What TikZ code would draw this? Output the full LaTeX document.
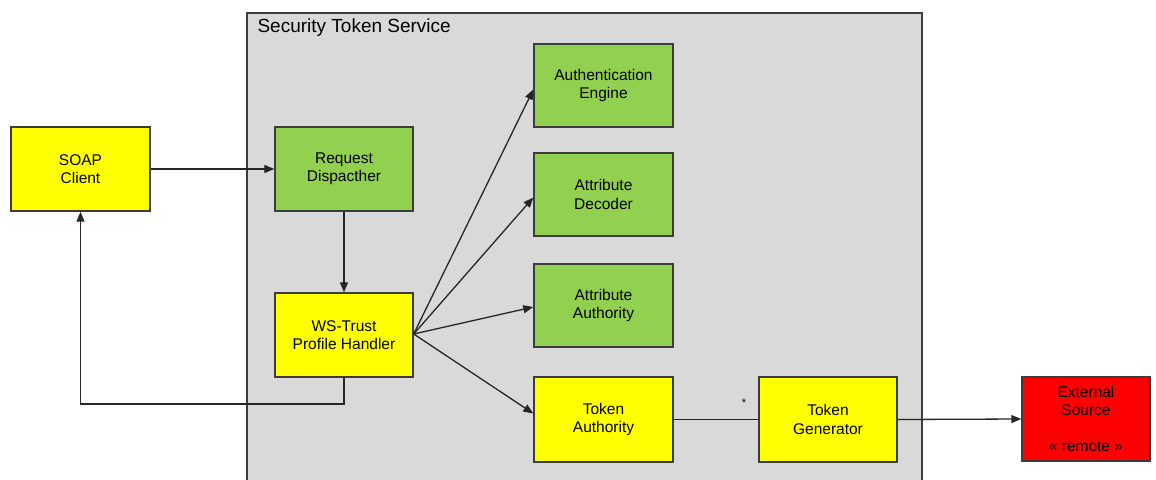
\documentclass[tikz,border=0pt]{standalone}
\usepackage{fontspec}
\setmainfont{Liberation Sans}
\usetikzlibrary{arrows.meta,calc}
\definecolor{boxgreen}{RGB}{146,208,80}
\definecolor{boxyellow}{RGB}{255,255,0}
\definecolor{boxred}{RGB}{255,0,0}
\definecolor{stsgray}{RGB}{217,217,217}
\definecolor{edge}{RGB}{60,60,60}
\tikzset{
  comp/.style={draw=edge, line width=1.4pt, inner sep=0pt, align=center,
    minimum width=139pt, minimum height=84pt,
    font=\fontsize{15.5}{18.3}\selectfont},
  greencomp/.style={comp, fill=boxgreen},
  yellowcomp/.style={comp, fill=boxyellow},
  redcomp/.style={comp, fill=boxred},
  link/.style={draw=black!85, line width=1.3pt},
  arr/.style={link, -{Triangle[length=10pt,width=8pt]}},
}
\begin{document}
\begin{tikzpicture}[x=1pt,y=-1pt]
\useasboundingbox (0,0) rectangle (1156,479);
% service container
\draw[draw=edge, line width=1.4pt, fill=stsgray] (247,13) rectangle (922,495);
\node[anchor=west, font=\fontsize{19}{22}\selectfont] (stslabel) at (254,28) {Security Token Service};

% components
\node[yellowcomp] (soap) at (80.5,169) {SOAP\\Client};
\node[greencomp, minimum width=138pt] (rd) at (344,169) {Request\\Dispacther};
\node[yellowcomp, minimum width=138pt] (ws) at (344,335) {WS-Trust\\Profile Handler};
\node[greencomp, minimum height=83pt] (ae) at (603.5,85.5) {Authentication\\Engine};
\node[greencomp, minimum height=83pt] (ad) at (603.5,194.5) {Attribute\\Decoder};
\node[greencomp, minimum height=83pt] (aa) at (603.5,305.5) {Attribute\\Authority};
\node[yellowcomp, minimum height=85pt] (ta) at (603.5,419.5) {Token\\Authority};
\node[yellowcomp, minimum width=138pt, minimum height=85pt] (tg) at (828,419.5) {Token\\Generator};
\node[redcomp, minimum width=128pt] (es) at (1086,419) {External\\Source\\[18.3pt]« remote »};

% connectors
\draw[arr] (soap.east) -- (rd.west);
\draw[arr] (rd.south) -- (ws.north);
\coordinate (wsout) at ($(ws.east)+(0,-1)$);
\draw[arr] (wsout) -- ($(ae.west)+(0,4)$);
\draw[arr] (wsout) -- ($(ad.west)+(0,3)$);
\draw[arr] (wsout) -- ($(aa.west)+(0,1.5)$);
\draw[arr] (wsout) -- ($(ta.west)+(0,-6)$);
\coordinate (loopcorner) at (344,404);
\draw[arr] (ws.south) -- (loopcorner) -| (soap.south);
\draw[link] (ta.east) -- (tg.west);
\node[font=\fontsize{11}{12}\selectfont] (mult) at (744,403) {*};
\draw[arr] (tg.east) -- (es.west);
\end{tikzpicture}
\end{document}
